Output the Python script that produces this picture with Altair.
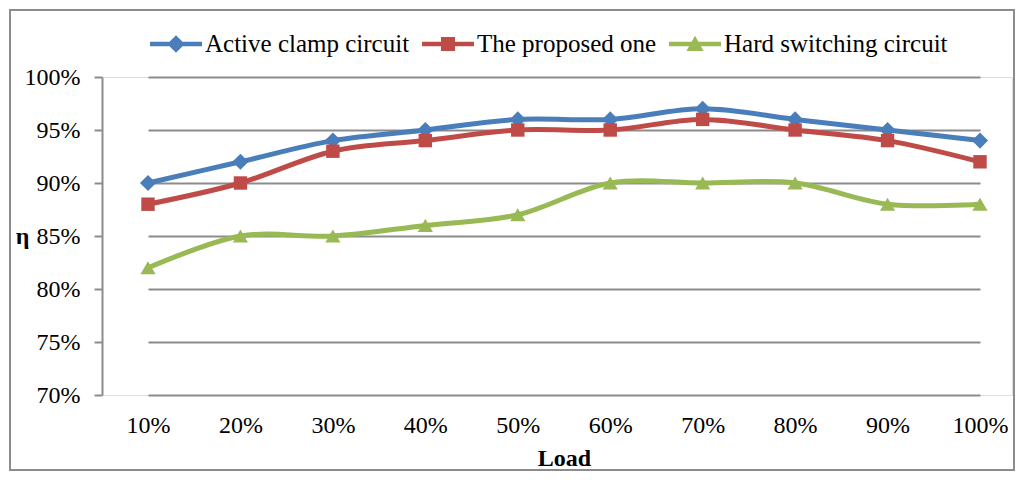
import altair as alt
import pandas as pd

loads = ["10%", "20%", "30%", "40%", "50%", "60%", "70%", "80%", "90%", "100%"]
series_names = ["Active clamp circuit", "The proposed one", "Hard switching circuit"]
active_clamp = [90, 92, 94, 95, 96, 96, 97, 96, 95, 94]
proposed = [88, 90, 93, 94, 95, 95, 96, 95, 94, 92]
hard_switching = [82, 85, 85, 86, 87, 90, 90, 90, 88, 88]
colors = ["#4a7ebb", "#be4b48", "#98b954"]
shapes = ["diamond", "square", "triangle-up"]
point_sizes = [260, 180, 230]
legend_paths = [
    "M-1,-0.09H1V0.09H-1ZM0,-0.34L0.34,0L0,0.34L-0.34,0Z",
    "M-1,-0.09H1V0.09H-1ZM-0.27,-0.27H0.27V0.27H-0.27Z",
    "M-1,-0.09H1V0.09H-1ZM0,-0.32L0.33,0.27L-0.33,0.27Z",
]

rows = []
for name, vals in zip(series_names, [active_clamp, proposed, hard_switching]):
    for ld, v in zip(loads, vals):
        rows.append({"Load": ld, "eff": v / 100.0, "series": name})
df = pd.DataFrame(rows)

W, H = 910, 318
FONT = "Liberation Serif"

xenc = alt.X("Load:N", sort=loads,
             scale=alt.Scale(type="point", range=[46, 878], padding=0),
             axis=alt.Axis(title="Load", labelAngle=0, ticks=False, domain=False,
                           grid=False, labelFont=FONT, labelFontSize=24,
                           labelColor="black", labelPadding=30, labelBaseline="middle",
                           titleFont=FONT, titleFontSize=24, titleFontWeight="bold",
                           titleColor="black", titleY=63, titleBaseline="middle"))
yenc = alt.Y("eff:Q",
             scale=alt.Scale(domain=[0.70, 1.00], nice=False, zero=False),
             axis=alt.Axis(title="η", values=[0.70, 0.75, 0.80, 0.85, 0.90, 0.95, 1.00],
                           format=".0%", grid=True, gridColor="#8c8c8c", gridWidth=2,
                           domainColor="#8c8c8c", domainWidth=2,
                           tickColor="#8c8c8c", tickWidth=2, tickSize=8,
                           labelFont=FONT, labelFontSize=24, labelColor="black",
                           labelPadding=14,
                           titleFont=FONT, titleFontSize=24, titleFontWeight="bold",
                           titleColor="black", titleAngle=0, titleX=-80, titleY=159,
                           titleAlign="center", titleBaseline="middle"))

color_scale = alt.Scale(domain=series_names, range=colors)

legend = alt.Legend(
    title=None, orient="none", direction="horizontal", legendX=48, legendY=-59,
    labelFont=FONT, labelFontSize=25, labelColor="black", labelOffset=3, labelLimit=0,
    symbolSize=2704, symbolStrokeWidth=0, symbolOpacity=1,
    columnPadding=12, padding=0,
)

lines = alt.Chart(df).mark_line(strokeWidth=5, interpolate="cardinal").encode(
    x=xenc, y=yenc,
    color=alt.Color("series:N", scale=color_scale, legend=legend),
)

point_layers = []
for name, shp, sz in zip(series_names, shapes, point_sizes):
    point_layers.append(
        alt.Chart(df).transform_filter(alt.datum.series == name)
        .mark_point(filled=True, opacity=1, shape=shp, size=sz)
        .encode(x=xenc, y=yenc,
                color=alt.Color("series:N", scale=color_scale, legend=legend))
    )

legend_layer = alt.Chart(df).transform_filter("false").mark_point(
    filled=True, opacity=1
).encode(
    x=xenc, y=yenc,
    color=alt.Color("series:N", scale=color_scale, legend=legend),
    shape=alt.Shape("series:N", scale=alt.Scale(domain=series_names, range=legend_paths),
                    legend=legend),
)

border = alt.Chart(pd.DataFrame({"a": [0]})).mark_rect(
    fill=None, stroke="#8c8c8c", strokeWidth=2
).encode(
    x=alt.value(-92), x2=alt.value(W + 2), y=alt.value(-67), y2=alt.value(H + 75)
)

chart = alt.layer(border, lines, *point_layers, legend_layer).properties(
    width=W, height=H,
    autosize=alt.AutoSizeParams(type="none"),
    padding={"left": 94, "top": 69, "right": 4, "bottom": 77},
).configure_view(stroke=None).configure(background="white")

chart.save("out.html", embed_options={"renderer": "svg", "actions": False})
